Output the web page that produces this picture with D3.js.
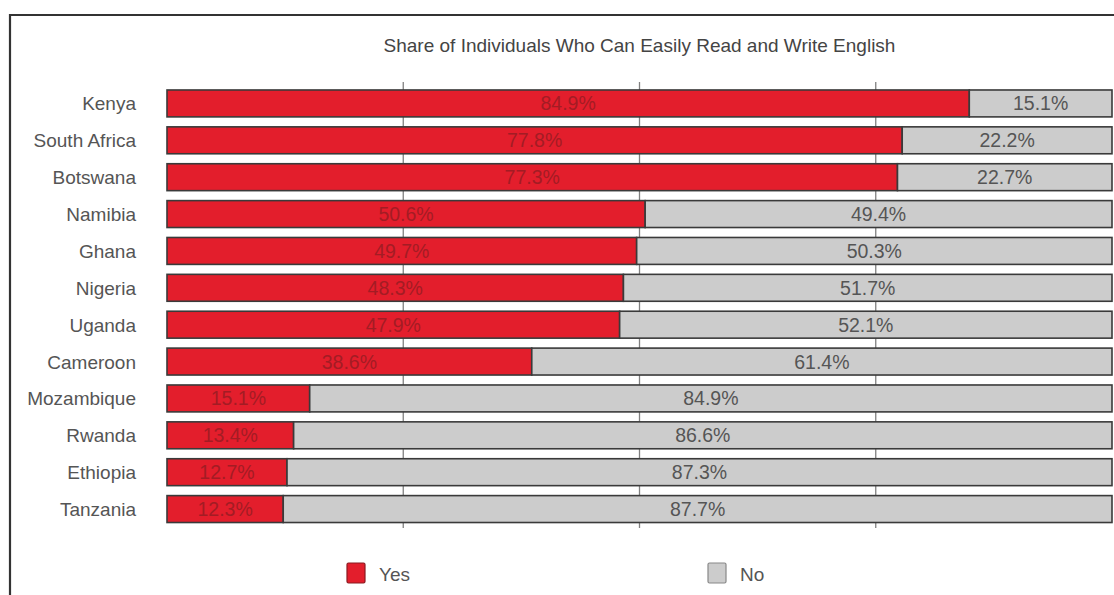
<!DOCTYPE html>
<html>
<head>
<meta charset="utf-8">
<script src="https://cdn.jsdelivr.net/npm/d3@7"></script>
<style>
  html, body { margin: 0; padding: 0; background: #fff; }
  svg { display: block; }
  text { font-family: "Liberation Sans Narrow", "Arial Narrow", "Liberation Sans", sans-serif; }
</style>
</head>
<body>
<svg id="chart" width="1114" height="595"></svg>
<script>
// Share of individuals who can easily read and write English, by country (%)
const countries = ["Kenya", "South Africa", "Botswana", "Namibia", "Ghana", "Nigeria",
                   "Uganda", "Cameroon", "Mozambique", "Rwanda", "Ethiopia", "Tanzania"];
const yesValues = [84.9, 77.8, 77.3, 50.6, 49.7, 48.3, 47.9, 38.6, 15.1, 13.4, 12.7, 12.3];
const noValues  = [15.1, 22.2, 22.7, 49.4, 50.3, 51.7, 52.1, 61.4, 84.9, 86.6, 87.3, 87.7];
const gridTicks = [25, 50, 75];
const seriesNames = ["Yes", "No"];
const titleText = "Share of Individuals Who Can Easily Read and Write English";

const svg = d3.select("#chart");
const colors = { Yes: "#e31e2c", No: "#cccccc" };

const x = d3.scaleLinear().domain([0, 100]).range([167, 1112]);
const y = d3.scaleBand().domain(countries).range([85, 527.5])
  .paddingInner(0.27).paddingOuter(0.135);

// outer frame (top and left edges)
svg.append("path")
  .attr("d", "M10,595 L10,15 L1114,15")
  .attr("fill", "none").attr("stroke", "#333").attr("stroke-width", 2.2);

// title
svg.append("text")
  .attr("x", (x(0) + x(100)) / 2).attr("y", 52)
  .attr("text-anchor", "middle")
  .attr("font-size", 19).attr("fill", "#444")
  .text(titleText);

// vertical gridlines
svg.append("g").selectAll("line").data(gridTicks).join("line")
  .attr("x1", d => x(d)).attr("x2", d => x(d))
  .attr("y1", 82).attr("y2", 528)
  .attr("stroke", "#808080").attr("stroke-width", 1.3);

// stacked bars
const rows = countries.map((c, i) => ({ c, Yes: yesValues[i], No: noValues[i] }));
const stack = d3.stack().keys(seriesNames)(rows);

const barG = svg.append("g");
stack.forEach(layer => {
  barG.append("g").selectAll("rect").data(layer).join("rect")
    .attr("x", d => x(d[0]))
    .attr("y", d => y(d.data.c))
    .attr("width", d => x(d[1]) - x(d[0]))
    .attr("height", y.bandwidth())
    .attr("fill", colors[layer.key])
    .attr("stroke", "#3a3a3a").attr("stroke-width", 1.6);
});

// value labels centred in each segment
stack.forEach(layer => {
  svg.append("g").selectAll("text").data(layer).join("text")
    .attr("x", d => (x(d[0]) + x(d[1])) / 2)
    .attr("y", d => y(d.data.c) + y.bandwidth() / 2 + 7)
    .attr("text-anchor", "middle")
    .attr("font-size", 19.5)
    .attr("fill", layer.key === "Yes" ? "#a31c24" : "#555")
    .text(d => d.data[layer.key].toFixed(1) + "%");
});

// country labels
svg.append("g").selectAll("text").data(countries).join("text")
  .attr("x", 136)
  .attr("y", d => y(d) + y.bandwidth() / 2 + 7)
  .attr("text-anchor", "end")
  .attr("font-size", 19).attr("fill", "#555")
  .text(d => d);

// legend
const legendX = { Yes: 347, No: 708 };
const lg = svg.append("g").selectAll("g").data(seriesNames).join("g")
  .attr("transform", d => `translate(${legendX[d]},563)`);
lg.append("rect")
  .attr("width", 18).attr("height", 20).attr("rx", 1.5)
  .attr("fill", d => colors[d])
  .attr("stroke", d => d === "Yes" ? "#8a1a20" : "#888").attr("stroke-width", 1.2);
lg.append("text")
  .attr("x", 32).attr("y", 18)
  .attr("font-size", 19).attr("fill", "#555")
  .text(d => d);
</script>
</body>
</html>
